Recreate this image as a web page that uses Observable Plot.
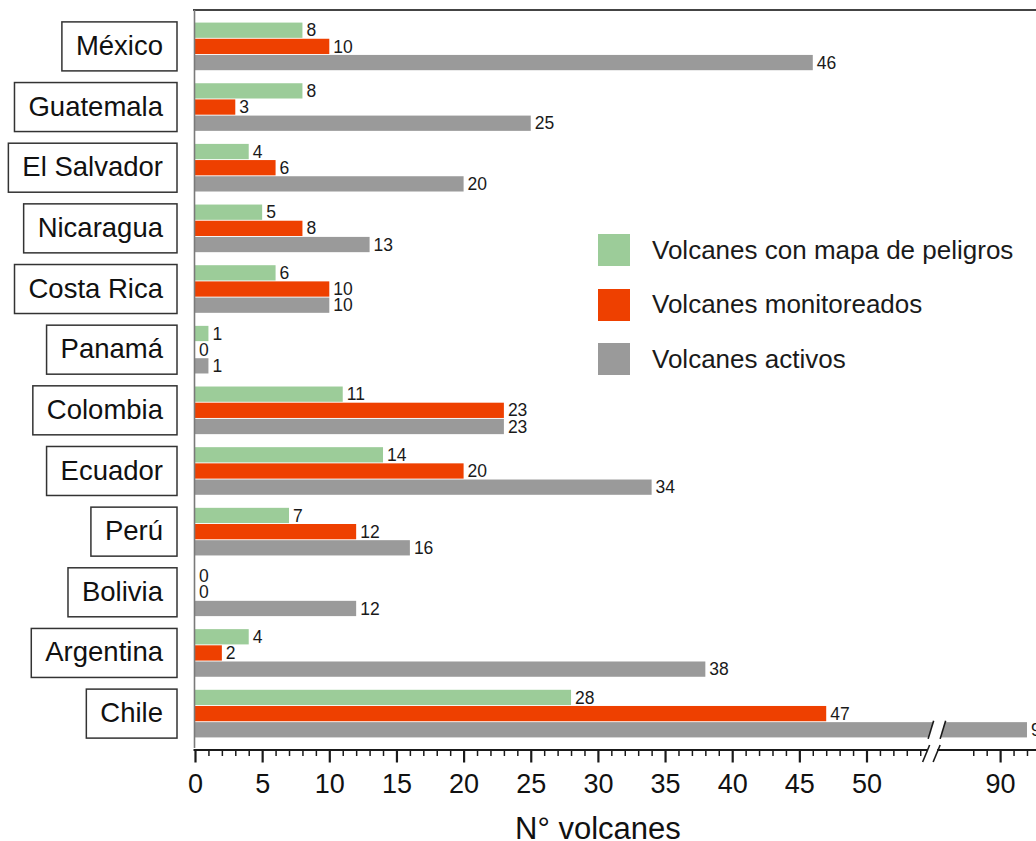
<!DOCTYPE html>
<html>
<head>
<meta charset="utf-8">
<script src="https://cdn.jsdelivr.net/npm/d3@7"></script>
<script src="https://cdn.jsdelivr.net/npm/@observablehq/plot@0.6"></script>
<style>
  body { margin: 0; background: #fff; font-family: "Liberation Sans", Arial, sans-serif; }
  #wrap { position: relative; width: 1036px; height: 841px; overflow: hidden; background: #fff; }
  #legend { position: absolute; left: 598px; top: 234px; }
  .item { display: flex; align-items: center; height: 32px; margin-bottom: 22.5px; }
  .sw { width: 32px; height: 32px; margin-right: 22px; flex: none; }
  .lab { font-size: 26px; color: #1a1a1a; white-space: nowrap; }
</style>
</head>
<body>
<div id="wrap"><div id="legend"></div></div>
<script>
// ---- data ----
const countries = ["México", "Guatemala", "El Salvador", "Nicaragua", "Costa Rica", "Panamá",
                   "Colombia", "Ecuador", "Perú", "Bolivia", "Argentina", "Chile"];
const mapaPeligros = [8, 8, 4, 5, 6, 1, 11, 14, 7, 0, 4, 28];
const monitoreados = [10, 3, 6, 8, 10, 0, 23, 20, 12, 0, 2, 47];
const activos      = [46, 25, 20, 13, 10, 1, 23, 34, 16, 12, 38, 92];
const seriesNames  = ["Volcanes con mapa de peligros", "Volcanes monitoreados", "Volcanes activos"];
const seriesColors = ["#9ccc99", "#ee4000", "#9a9a9a"];
const majorTicks = [0, 5, 10, 15, 20, 25, 30, 35, 40, 45, 50, 90];
const minorTicks = [...d3.range(0, 55), ...d3.range(88, 94)].filter(v => !majorTicks.includes(v));
const breakLo = 54.6, breakHi = 85.3;
const xTitle = "N° volcanes";

// ---- layout ----
const W = 1036, H = 841;
const mTop = 10, mBottom = 91, mLeft = 195;
const yPad = 0.2;
const step = (H - mBottom - mTop) / (countries.length - yPad + 2 * yPad);
const bw = step * (1 - yPad);
const sub = bw / 3;
const gap = 0.45;

const seriesValues = [mapaPeligros, monitoreados, activos];
const rowsBySeries = seriesValues.map((arr, s) =>
  countries.map((c, i) => ({country: c, value: arr[i], series: seriesNames[s]})));

const fontFamily = "'Liberation Sans', Arial, Helvetica, sans-serif";
const canvas = document.createElement("canvas");
const ctx = canvas.getContext("2d");
function textWidth(t, size) { ctx.font = `${size}px ${fontFamily}`; return ctx.measureText(t).width; }

function decorations(index, scales, values, dims) {
  const x = scales.x, y = scales.y;
  const band = (y && y.bandwidth) ? y.bandwidth() : bw;
  const sb = band / 3;
  const {width, height, marginTop, marginBottom} = dims;
  const bottom = height - marginBottom;
  const x0 = x(0);
  const bx = (x(breakLo) + x(breakHi)) / 2;
  const g = d3.create("svg:g");
  // top frame line
  g.append("line").attr("x1", x0 - 2).attr("x2", width).attr("y1", marginTop).attr("y2", marginTop)
    .attr("stroke", "#444").attr("stroke-width", 2);
  // left axis line
  g.append("line").attr("x1", x0 - 0.5).attr("x2", x0 - 0.5).attr("y1", marginTop).attr("y2", bottom - 2)
    .attr("stroke", "#7a7a7a").attr("stroke-width", 1.6);
  // x axis line with break
  g.append("line").attr("x1", x0 - 1.5).attr("x2", bx - 5.5).attr("y1", bottom).attr("y2", bottom)
    .attr("stroke", "#1a1a1a").attr("stroke-width", 2);
  g.append("line").attr("x1", bx + 4.5).attr("x2", width).attr("y1", bottom).attr("y2", bottom)
    .attr("stroke", "#1a1a1a").attr("stroke-width", 2);
  for (const off of [-10, 0.5]) {
    g.append("line").attr("x1", bx + off).attr("y1", bottom + 12).attr("x2", bx + off + 7).attr("y2", bottom - 5)
      .attr("stroke", "#1a1a1a").attr("stroke-width", 1.6);
  }
  // break on the longest bar
  const iMax = d3.maxIndex(activos);
  const by0 = y(countries[iMax]) + 2 * sb - 1, by1 = y(countries[iMax]) + band + 1;
  const a = bx - 4.5, b = bx + 7.5, sl = 5.5;
  g.append("polygon")
    .attr("points", `${a},${by1} ${a + sl},${by0} ${b + sl},${by0} ${b},${by1}`)
    .attr("fill", "white");
  for (const s of [a, b]) {
    g.append("line").attr("x1", s).attr("y1", by1).attr("x2", s + sl).attr("y2", by0)
      .attr("stroke", "#1a1a1a").attr("stroke-width", 1.6);
  }
  // country label boxes
  const fs = 27.5;
  const right = x0 - 18;
  countries.forEach(c => {
    const cy = y(c) + band / 2;
    const w = textWidth(c, fs);
    g.append("rect").attr("x", right - w - 28).attr("y", cy - 24.5).attr("width", w + 28).attr("height", 49)
      .attr("fill", "white").attr("stroke", "#333").attr("stroke-width", 1.5);
    g.append("text").attr("x", right - 14).attr("y", cy).attr("dy", "0.31em")
      .attr("text-anchor", "end").attr("font-size", fs).attr("fill", "#111").text(c);
  });
  // x axis title
  g.append("text").attr("x", x(30)).attr("y", bottom + 89).attr("text-anchor", "middle")
    .attr("font-size", 31).attr("fill", "#111").text(xTitle);
  return g.node();
}

const insets = [
  {insetTop: gap, insetBottom: 2 * sub + gap},
  {insetTop: sub + gap, insetBottom: sub + gap},
  {insetTop: 2 * sub + gap, insetBottom: gap}
];
const dys = [-sub, 0, sub];

const marks = [];
rowsBySeries.forEach((rows, s) => {
  marks.push(Plot.barX(rows, {x: "value", y: "country", fill: seriesColors[s], ...insets[s]}));
});
rowsBySeries.forEach((rows, s) => {
  marks.push(Plot.text(rows, {x: "value", y: "country", text: d => String(d.value), dx: 3.5, dy: dys[s],
    textAnchor: "start", fontSize: 17.5, fill: "#1a1a1a"}));
});
marks.push(Plot.axisX(minorTicks, {tickSize: 6, tickFormat: () => "", strokeWidth: 1.5, stroke: "#1a1a1a", label: null}));
marks.push(Plot.axisX(majorTicks, {tickSize: 12.5, tickPadding: 11, fontSize: 27, strokeWidth: 2.2, stroke: "#1a1a1a", label: null}));
marks.push(decorations);

const chart = Plot.plot({
  width: W,
  height: H,
  marginTop: mTop,
  marginBottom: mBottom,
  marginLeft: mLeft,
  marginRight: 0,
  style: {fontFamily, background: "white", color: "#111"},
  x: {type: "linear", domain: [0, breakLo, breakHi, 93], range: [195, 195 + breakLo * 13.43, 937, 937 + (93 - breakHi) * 13.43]},
  y: {domain: countries, range: [mTop, H - mBottom], padding: yPad, round: false, axis: null},
  marks
});
document.getElementById("wrap").prepend(chart);

// legend
const legend = d3.select("#legend");
seriesNames.forEach((name, i) => {
  const it = legend.append("div").attr("class", "item");
  it.append("div").attr("class", "sw").style("background", seriesColors[i]);
  it.append("div").attr("class", "lab").text(name);
});
</script>
</body>
</html>
